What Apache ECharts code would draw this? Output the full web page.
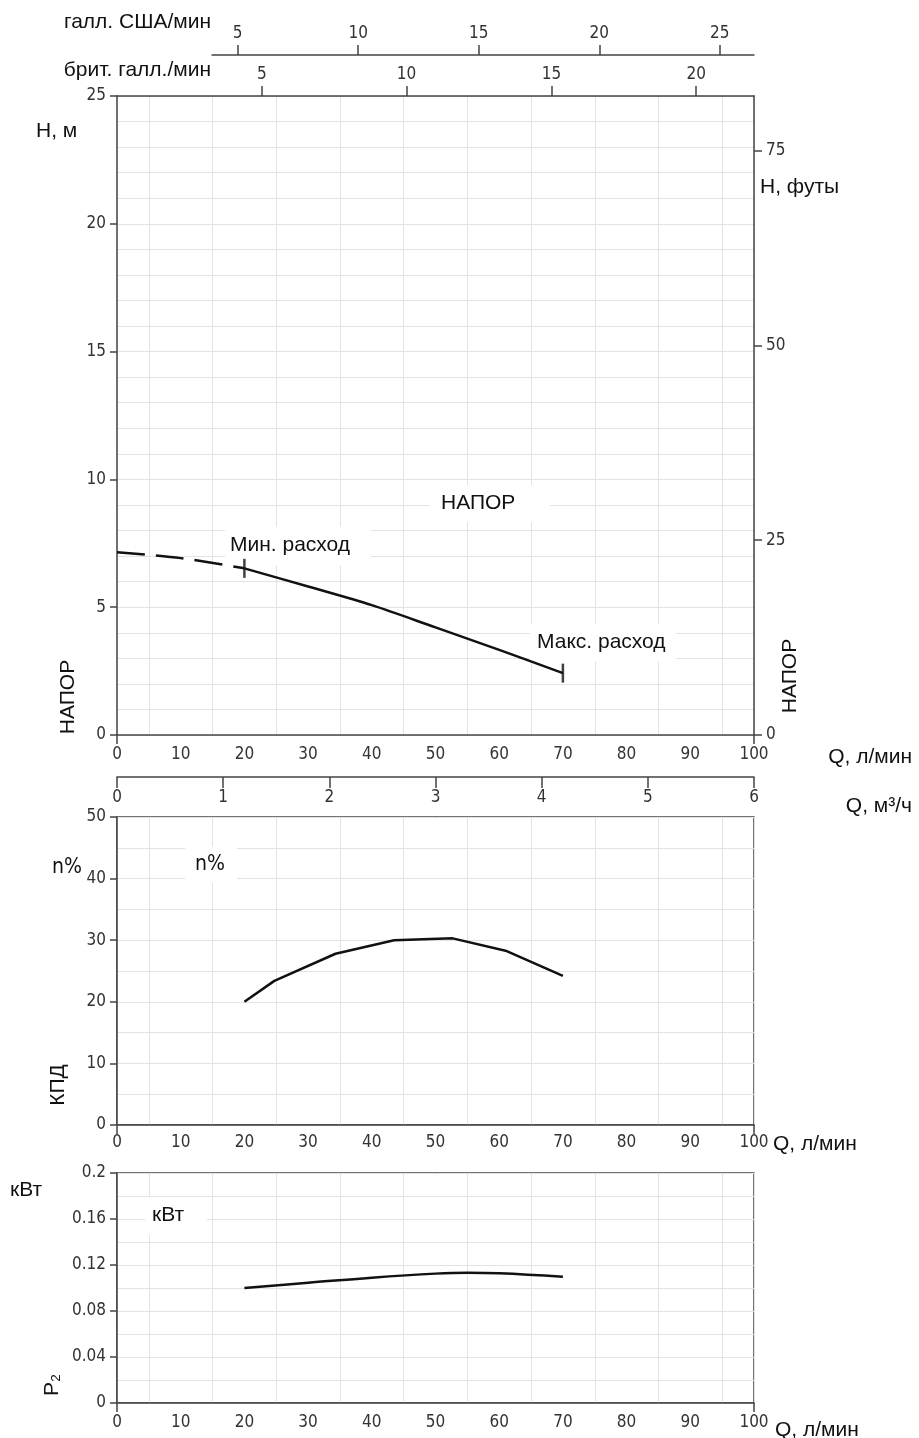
<!DOCTYPE html>
<html><head><meta charset="utf-8">
<script src="https://cdn.jsdelivr.net/npm/echarts@6/dist/echarts.min.js"></script>
<style>html,body{margin:0;padding:0;background:#fff}#c{width:919px;height:1438px}</style>
</head><body><div id="c"></div>
<script>
// ---- data ----
const Q_HEAD_DASH = [0, 10, 20];
const H_HEAD_DASH = [7.15, 6.92, 6.52];
const Q_HEAD = [20, 30, 40, 50, 60, 70];
const H_HEAD = [6.52, 5.81, 5.08, 4.21, 3.33, 2.42];
const Q_LIMITS = [20, 70];
const Q_EFF = [20, 24.7, 34.3, 43.5, 52.7, 61, 70];
const EFF = [20.0, 23.4, 27.8, 30.0, 30.3, 28.3, 24.2];
const Q_P2 = [20, 30, 40, 50, 55, 60, 70];
const P2 = [0.100, 0.1045, 0.109, 0.1125, 0.1133, 0.1128, 0.1098];
const US_GAL_TICKS = [5, 10, 15, 20, 25];
const UK_GAL_TICKS = [5, 10, 15, 20];
const FT_TICKS = [0, 25, 50, 75];
const M3H_TICKS = [0, 1, 2, 3, 4, 5, 6];
const Q_END_TICKS = [0, 100];
const L_PER_USGAL = 3.78541, L_PER_UKGAL = 4.54609, FT_PER_M = 3.28084, LPM_PER_M3H = 100 / 6;
const Q_MAX = 100, H_MAX = 25;

// ---- layout ----
const PL = 117, PW = 637;
const AX = '#444', GR = '#dfe5e5';
const NUM = "'Liberation Sans Narrow','DejaVu Sans Condensed',sans-serif";
const TXT = "'Liberation Sans',Arial,sans-serif";
const numLbl = (extra) => Object.assign({color: '#333', fontSize: 17, fontFamily: NUM}, extra || {});
const pair = (xs, ys) => xs.map((x, i) => [x, ys[i]]);
const usMinPx = 212;
const usMin = ((usMinPx - PL) / PW * Q_MAX) / L_PER_USGAL;
const axLine = {show: true, onZero: false, lineStyle: {color: AX, width: 1.5}};
const tickStyle = {color: AX, width: 1.5};

const chart = echarts.init(document.getElementById('c'), null, {renderer: 'canvas'});
const line = {type: 'line', symbol: 'none', lineStyle: {color: '#111', width: 2.5}, z: 3, animation: false};
const splitStyle = {show: true, lineStyle: {color: GR, width: 1}};

function qAxis(grid, margin) {
  return {gridIndex: grid, type: 'value', min: 0, max: Q_MAX, interval: 10, position: 'bottom',
    axisLine: axLine, axisTick: {show: true, length: 9, customValues: Q_END_TICKS, lineStyle: tickStyle},
    axisLabel: numLbl({margin: margin}), splitLine: splitStyle,
    minorTick: {show: false, splitNumber: 2}, minorSplitLine: splitStyle};
}

const option = {
  animation: false,
  grid: [
    {left: PL, top: 96, width: PW, height: 639, show: false},
    {left: usMinPx, top: 54, width: PL + PW - usMinPx, height: 1, show: false},
    {left: PL, top: 776, width: PW, height: 1, show: false},
    {left: PL, top: 817, width: PW, height: 308, show: true, borderColor: AX, borderWidth: 1.5},
    {left: PL, top: 1173, width: PW, height: 230, show: true, borderColor: AX, borderWidth: 1.5}
  ],
  xAxis: [
    qAxis(0, 11),
    // 1: UK gal top
    {gridIndex: 0, type: 'value', min: 0, max: Q_MAX / L_PER_UKGAL, position: 'top',
      axisLine: axLine,
      axisTick: {show: true, length: 10, customValues: UK_GAL_TICKS, lineStyle: tickStyle},
      axisLabel: numLbl({margin: 13, customValues: UK_GAL_TICKS}), splitLine: {show: false}},
    // 2: US gal
    {gridIndex: 1, type: 'value', min: usMin, max: Q_MAX / L_PER_USGAL, position: 'bottom',
      axisLine: axLine,
      axisTick: {show: true, inside: true, length: 10, customValues: US_GAL_TICKS, lineStyle: tickStyle},
      axisLabel: numLbl({inside: true, margin: 13, customValues: US_GAL_TICKS}), splitLine: {show: false}},
    // 3: m3/h
    {gridIndex: 2, type: 'value', min: 0, max: Q_MAX / LPM_PER_M3H, position: 'bottom',
      axisLine: axLine,
      axisTick: {show: true, length: 11, customValues: M3H_TICKS, lineStyle: tickStyle},
      axisLabel: numLbl({margin: 12, customValues: M3H_TICKS}), splitLine: {show: false}},
    qAxis(3, 9),
    qAxis(4, 11)
  ],
  yAxis: [
    // 0: head m
    {gridIndex: 0, type: 'value', min: 0, max: H_MAX, interval: 5, position: 'left',
      axisLine: axLine, axisTick: {show: true, length: 7, lineStyle: tickStyle},
      axisLabel: numLbl({margin: 11}), splitLine: splitStyle,
      minorTick: {show: false, splitNumber: 5}, minorSplitLine: splitStyle},
    // 1: head ft
    {gridIndex: 0, type: 'value', min: 0, max: H_MAX * FT_PER_M, position: 'right',
      axisLine: axLine,
      axisTick: {show: true, length: 8, customValues: FT_TICKS, lineStyle: tickStyle},
      axisLabel: numLbl({margin: 12, customValues: FT_TICKS}), splitLine: {show: false}},
    {gridIndex: 1, type: 'value', show: false},
    {gridIndex: 2, type: 'value', show: false},
    // 4: eff
    {gridIndex: 3, type: 'value', min: 0, max: 50, interval: 10,
      axisLine: axLine, axisTick: {show: true, length: 7, lineStyle: tickStyle},
      axisLabel: numLbl({margin: 11}), splitLine: splitStyle,
      minorTick: {show: false, splitNumber: 2}, minorSplitLine: splitStyle},
    // 5: power
    {gridIndex: 4, type: 'value', min: 0, max: 0.2, interval: 0.04,
      axisLine: axLine, axisTick: {show: true, length: 7, lineStyle: tickStyle},
      axisLabel: numLbl({margin: 11}), splitLine: splitStyle,
      minorTick: {show: false, splitNumber: 2}, minorSplitLine: splitStyle}
  ],
  series: [
    Object.assign({}, line, {xAxisIndex: 0, yAxisIndex: 0, data: pair(Q_HEAD_DASH, H_HEAD_DASH), smooth: 0.3,
      lineStyle: {color: '#111', width: 2.5, type: [28, 11]}}),
    Object.assign({}, line, {xAxisIndex: 0, yAxisIndex: 0, data: pair(Q_HEAD, H_HEAD), smooth: 0.3}),
    {type: 'scatter', xAxisIndex: 0, yAxisIndex: 0, z: 4, animation: false,
      data: Q_LIMITS.map(q => [q, H_HEAD[Q_HEAD.indexOf(q)]]),
      symbol: 'rect', symbolSize: [2.5, 19], itemStyle: {color: '#111'}},
    Object.assign({}, line, {xAxisIndex: 4, yAxisIndex: 4, data: pair(Q_EFF, EFF)}),
    Object.assign({}, line, {xAxisIndex: 5, yAxisIndex: 5, data: pair(Q_P2, P2), smooth: 0.4})
  ],
  graphic: []
};

function txt(x, y, s, o) {
  o = o || {};
  return {type: 'text', x: x, y: y, z: 5, rotation: o.rot || 0,
    style: {text: s, fill: '#111', font: (o.size || 21) + 'px ' + (o.font || TXT),
      textAlign: o.align || 'left', textVerticalAlign: 'middle'}};
}
function boxed(x, y, s, bx, by, bw, bh, o) {
  return [
    {type: 'rect', z: 1, shape: {x: bx, y: by, width: bw, height: bh}, style: {fill: '#fff'}},
    txt(x, y, s, o)
  ];
}
option.graphic = [].concat(
  [txt(211, 22, 'галл. США/мин', {align: 'right'}),
   txt(211, 70, 'брит. галл./мин', {align: 'right'}),
   txt(36, 131, 'H, м'),
   txt(760, 187, 'H, футы'),
   txt(68, 697, 'НАПОР', {align: 'center', rot: Math.PI / 2}),
   txt(790, 676, 'НАПОР', {align: 'center', rot: Math.PI / 2}),
   txt(912, 757, 'Q, л/мин', {align: 'right'}),
   txt(912, 806, 'Q, м³/ч', {align: 'right'}),
   txt(52, 868, 'n%', {font: NUM, size: 21}),
   txt(58, 1085, 'КПД', {align: 'center', rot: Math.PI / 2}),
   txt(773, 1144, 'Q, л/мин'),
   txt(10, 1190, 'кВт'),
   txt(52, 1385, 'P₂', {align: 'center', rot: Math.PI / 2}),
   txt(775, 1430, 'Q, л/мин')],
  boxed(441, 503, 'НАПОР', 430, 485, 120, 37),
  boxed(230, 545, 'Мин. расход', 225, 527, 146, 38),
  boxed(537, 642, 'Макс. расход', 530, 624, 146, 37),
  boxed(195, 865, 'n%', 185, 847, 52, 36, {font: NUM}),
  boxed(152, 1215, 'кВт', 145, 1197, 62, 38)
);

chart.setOption(option);
</script></body></html>
